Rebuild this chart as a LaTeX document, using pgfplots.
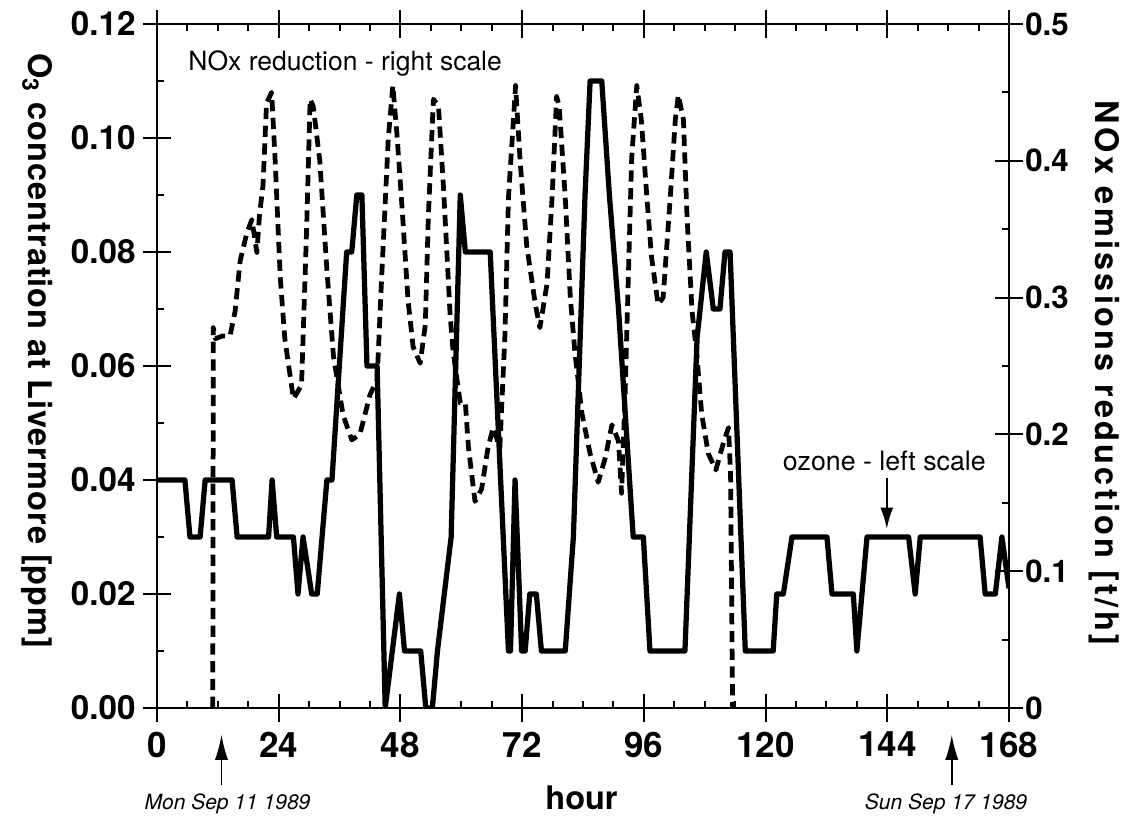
\documentclass[border=0pt]{standalone}
\usepackage{fontspec}
\setmainfont{TeX Gyre Heros}
\usepackage{pgfplots}
\pgfplotsset{compat=1.18}
\usetikzlibrary{arrows.meta}

\pgfplotstableread{
h v
0 0.040
5.5 0.040
6.5 0.030
8.5 0.030
9.5 0.040
14.8 0.040
15.8 0.030
22.0 0.030
22.7 0.040
23.6 0.030
26.9 0.030
27.8 0.020
28.8 0.030
30.5 0.020
31.6 0.020
33.5 0.040
34.5 0.040
37.4 0.080
38.4 0.080
39.4 0.090
40.4 0.090
41.4 0.060
43.4 0.060
45.0 0.000
47.8 0.020
48.8 0.010
52.0 0.010
53.0 0.000
54.3 0.000
55.3 0.010
58.0 0.030
59.8 0.090
60.8 0.080
65.7 0.080
69.3 0.010
69.7 0.010
70.6 0.040
71.9 0.010
72.6 0.010
73.5 0.020
74.8 0.020
75.8 0.010
80.5 0.010
82.1 0.030
84.4 0.090
85.4 0.110
87.7 0.110
89.2 0.090
91.0 0.070
93.9 0.030
95.9 0.030
97.2 0.010
104.1 0.010
106.5 0.065
108.3 0.080
109.7 0.070
111.0 0.070
112.0 0.080
113.0 0.080
116.0 0.010
121.5 0.010
122.2 0.020
123.5 0.020
125.2 0.030
132.1 0.030
133.1 0.020
137.3 0.020
138.0 0.010
140.0 0.030
148.2 0.030
149.5 0.020
150.5 0.030
162.3 0.030
163.3 0.020
165.3 0.020
166.6 0.030
168.0 0.021
}\ozone

\pgfplotstableread{
h v
11.0 0.000
11.1 0.278
11.5 0.270
13.0 0.272
14.4 0.272
15.4 0.290
16.4 0.327
17.7 0.347
18.7 0.357
19.7 0.333
20.2 0.360
20.9 0.382
21.6 0.442
22.6 0.450
23.3 0.400
24.3 0.315
25.2 0.270
26.9 0.226
28.5 0.236
29.5 0.350
30.2 0.445
30.8 0.440
32.1 0.400
33.5 0.320
34.8 0.257
36.7 0.214
38.4 0.196
40.0 0.200
42.0 0.229
43.4 0.240
44.3 0.315
45.6 0.416
46.5 0.455
47.3 0.420
48.3 0.367
49.5 0.298
50.5 0.264
51.9 0.252
52.9 0.280
53.5 0.359
54.5 0.445
55.5 0.440
56.5 0.380
57.8 0.287
58.4 0.260
59.8 0.223
60.8 0.223
61.4 0.191
62.7 0.151
64.0 0.160
65.3 0.191
66.3 0.205
67.6 0.190
68.6 0.272
69.3 0.373
70.3 0.431
70.7 0.455
71.6 0.400
72.9 0.338
74.6 0.295
75.5 0.278
76.9 0.310
77.9 0.373
78.8 0.447
79.3 0.440
80.5 0.373
81.5 0.300
82.4 0.260
83.8 0.215
85.4 0.186
87.0 0.165
88.4 0.183
89.7 0.207
91.0 0.195
91.6 0.157
92.3 0.229
92.9 0.310
93.6 0.402
94.6 0.455
95.5 0.430
96.6 0.373
97.5 0.330
98.8 0.295
99.8 0.300
101.2 0.373
102.2 0.430
102.8 0.448
103.8 0.430
104.5 0.360
105.5 0.290
106.4 0.260
107.4 0.215
108.7 0.186
110.2 0.174
111.7 0.194
112.7 0.205
113.1 0.170
113.5 0.000
}\nox

\begin{document}
\begin{tikzpicture}
\path[use as bounding box] (-62.8pt,-44.8pt) rectangle (386pt,283.2pt);
\begin{axis}[
  at={(0pt,0pt)}, anchor=south west,
  scale only axis, width=340.8pt, height=273.6pt,
  xmin=0, xmax=168, ymin=0, ymax=0.12,
  xtick={0,24,48,72,96,120,144,168},
  xticklabels={0,24,48,72,96,120,144,168},
  minor x tick num=3,
  ytick={0,0.02,0.04,0.06,0.08,0.10,0.12},
  yticklabels={0.00,0.02,0.04,0.06,0.08,0.10,0.12},
  minor y tick num=1,
  xtick pos=both, ytick pos=left,
  tick align=inside, major tick length=5.6pt, minor tick length=2.8pt,
  extra x ticks={0,24,48,72,96,120,144,168}, extra x tick labels={},
  extra x tick style={tick align=outside},
  extra y ticks={0,0.02,0.04,0.06,0.08,0.10,0.12}, extra y tick labels={},
  extra y tick style={tick align=outside},
  axis line style={line width=0.8pt},
  tick style={line width=0.8pt, black},
  xticklabel style={font=\bfseries\fontsize{14}{14}\selectfont, yshift=-6pt},
  yticklabel style={font=\bfseries\fontsize{13.3}{14}\selectfont, xshift=-5pt},
]
\addplot[black, line width=2.1pt, line join=round] table[x=h,y=v] {\ozone};
\node[anchor=base, font=\fontsize{10.6}{12}\selectfont] at (axis cs:37.1,0.1118) {NOx reduction - right scale};
\node[anchor=base, font=\fontsize{10.7}{12}\selectfont] at (axis cs:143.4,0.04175) {ozone - left scale};
\draw[line width=0.8pt, -{Latex[length=8.6pt,width=5.2pt]}] (axis cs:143.9,0.0403) -- (axis cs:143.9,0.0314);
\end{axis}
\begin{axis}[
  at={(0pt,0pt)}, anchor=south west,
  scale only axis, width=340.8pt, height=273.6pt,
  xmin=0, xmax=168, ymin=0, ymax=0.5,
  axis x line=none, axis y line*=right,
  ytick={0,0.1,0.2,0.3,0.4,0.5},
  yticklabels={0,0.1,0.2,0.3,0.4,0.5},
  minor y tick num=1,
  tick align=inside, major tick length=5.6pt, minor tick length=2.8pt,
  extra y ticks={0,0.1,0.2,0.3,0.4,0.5}, extra y tick labels={},
  extra y tick style={tick align=outside},
  axis line style={line width=0.8pt},
  tick style={line width=0.8pt, black},
  yticklabel style={font=\bfseries\fontsize{12.5}{14}\selectfont, xshift=3pt},
]
\addplot[black, line width=1.9pt, line join=round, dash pattern=on 4.5pt off 2.6pt] table[x=h,y=v] {\nox};
\end{axis}
\node[rotate=-90, font=\bfseries\fontsize{13}{14}\selectfont\addfontfeature{LetterSpace=3}] at (-48pt,142.8pt) {O\textsubscript{3} concentration at Livermore [ppm]};
\node[rotate=-90, font=\bfseries\fontsize{13}{14}\selectfont\addfontfeature{LetterSpace=10}] at (378.8pt,134pt) {NOx emissions reduction [t/h]};
\node[anchor=base, font=\bfseries\fontsize{13}{14}\selectfont] at (169.8pt,-40.8pt) {hour};
\node[anchor=base, font=\itshape\fontsize{8.4}{10}\selectfont] at (28.2pt,-40.8pt) {Mon Sep 11 1989};
\node[anchor=base, font=\itshape\fontsize{8.4}{10}\selectfont] at (315.6pt,-40.8pt) {Sun Sep 17 1989};
\draw[line width=0.6pt, -{Latex[length=10pt,width=5.3pt]}] (25.8pt,-30.8pt) -- (25.8pt,-10.8pt);
\draw[line width=0.6pt, -{Latex[length=10pt,width=5.3pt]}] (317.9pt,-30.8pt) -- (317.9pt,-10.8pt);
\end{tikzpicture}
\end{document}
